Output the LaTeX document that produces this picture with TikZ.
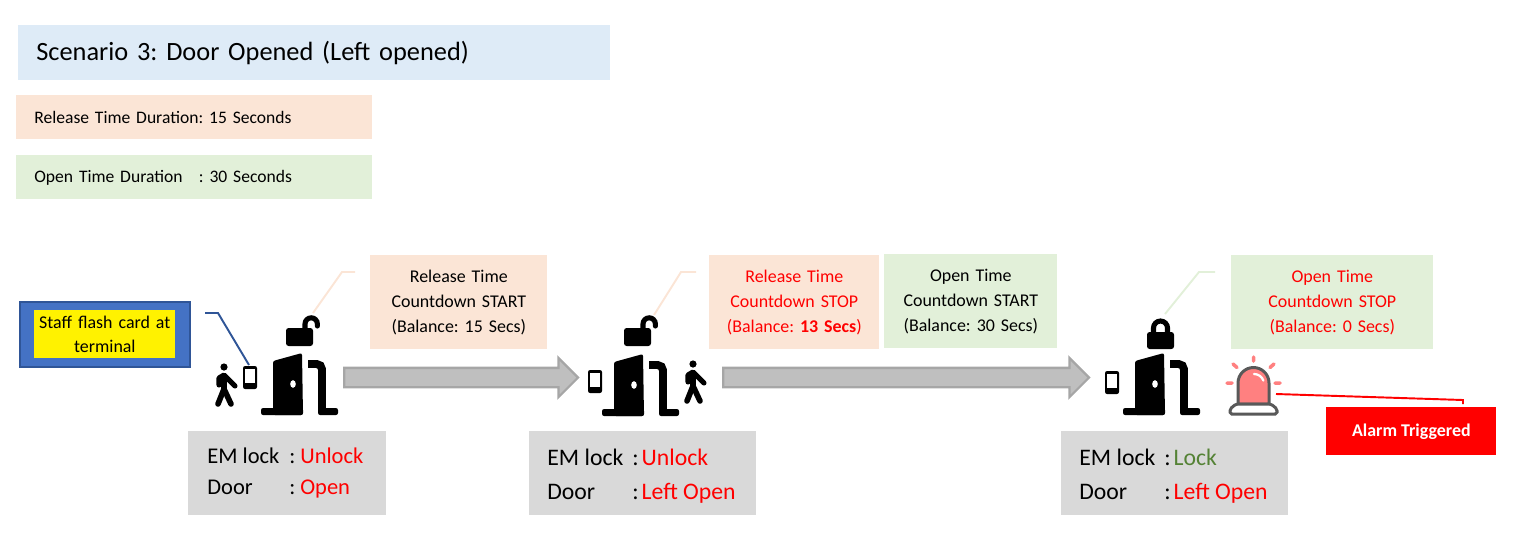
\documentclass[tikz,border=0pt]{standalone}
\usepackage{fontspec}
\setmainfont{Carlito}
\usepackage{array}
\usetikzlibrary{shapes.arrows, arrows.meta, positioning}

\definecolor{headblue}{HTML}{DEEBF7}
\definecolor{peach}{HTML}{FBE5D6}
\definecolor{palegreen}{HTML}{E2F0D9}
\definecolor{statgray}{HTML}{D9D9D9}
\definecolor{lockgreen}{HTML}{548235}
\definecolor{cardblue}{HTML}{4472C4}
\definecolor{darkblue}{HTML}{2F5597}
\definecolor{alarmpink}{HTML}{FF8080}
\definecolor{alarmgray}{HTML}{595959}
\definecolor{arrowgray}{HTML}{BFBFBF}
\definecolor{arrowedge}{HTML}{A6A6A6}

\frenchspacing
\tikzset{
  tag/.style={anchor=north west, inner xsep=0.36cm, inner ysep=0pt, align=left, font=\fontsize{10}{12}\selectfont},
  note/.style={anchor=north west, inner sep=0pt, align=center, font=\fontsize{10.2}{14.2}\selectfont},
  stat/.style={anchor=north west, fill=statgray, inner sep=0pt},
  flow/.style={single arrow, draw=arrowedge, fill=arrowgray, line width=1.3pt, minimum width=0.78cm,
    text height=0.17cm, text depth=0.17cm,
    single arrow head extend=0.2cm, single arrow head indent=0pt, inner sep=0pt, anchor=west},
  leader/.style={line width=1.1pt},
  pics/door/.style={code={
    \fill[rounded corners=1.2pt] (12,-6) -- (12,-54) -- (41,-62) -- (42,0) -- (12,0) -- cycle;
    \fill[rounded corners=1.2pt] (0,-7) rectangle (42,0);
    \fill[rounded corners=1.2pt] (57,-7) rectangle (77,0);
    \fill[white] (32,-31) ellipse (2.8 and 3.8);
    \draw[line width=4.5pt, rounded corners=3pt] (47,-51) -- (61,-51) -- (61,-3);
  }},
  pics/openlock/.style={code={
    \fill[rounded corners=1.5pt] (0,0) rectangle (27,-18);
    \draw[line width=2.9pt, line cap=round] (19,-14) -- (19,-22) arc[start angle=180, end angle=360, radius=6.2] -- ++(0,2);
  }},
  pics/shutlock/.style={code={
    \fill[rounded corners=1.5pt] (0,0) rectangle (27,-17);
    \draw[line width=2.9pt] (6.5,-13) -- (6.5,-21) arc[start angle=180, end angle=360, radius=7] -- (20.5,-13);
  }},
  pics/phone/.style={code={
    \fill[rounded corners=1.2pt] (0,0) rectangle (14,23);
    \fill[white] (2,3) rectangle (12,17);
  }},
  pics/walker/.style={code={
    \fill (0,0) circle (3.6);
    \draw[line width=2.9pt, line cap=round, line join=round] (-5,18) -- (-5,11) -- (0,8) -- (11,19);
    \draw[line width=3.2pt, line cap=round, line join=round] (0,9) -- (0,22) -- (-6,37);
    \draw[line width=3.2pt, line cap=round, line join=round] (0,22) -- (7,37);
  }},
  pics/siren/.style={code={
    \draw[alarmgray, fill=alarmpink, line width=1.7pt] (-15,37) -- (-15,16) arc[start angle=180, end angle=360, radius=15.5] -- (16,37) -- cycle;
    \draw[white, line width=1.3pt, line cap=round] (1,7) arc[start angle=270, end angle=340, radius=10];
    \draw[alarmgray, fill=white, line width=1.7pt, rounded corners=1pt] (-23,47) -- (-23,42) -- (-17,37) -- (18,37) -- (24,42) -- (24,47) -- cycle;
    \draw[alarmpink, line width=2pt, line cap=round] (0.5,-10) -- (0.5,-6) (-20,-3) -- (-16,0.5) (21,-3) -- (17,0.5)
      (-26,16) -- (-21,16) (22,16) -- (27,16);
  }}
}

\begin{document}
\begin{tikzpicture}[x=0.02cm, y=-0.02cm]
\useasboundingbox (0,0) rectangle (1522,552);

% legend
\node[tag, fill=headblue, text width=11.12cm, minimum height=1.1cm, font=\fontsize{15}{18}\selectfont] (title) at (18,25) {Scenario 3: Door Opened (Left opened)};
\node[tag, fill=peach, text width=6.4cm, minimum height=0.88cm] (release) at (16,95) {Release Time Duration: 15 Seconds};
\node[tag, fill=palegreen, text width=6.4cm, minimum height=0.88cm] (open) at (16,155) {Open Time Duration\hspace{0.6em} : 30 Seconds};

% countdown notes
\node[note, fill=peach, text width=3.54cm, minimum height=1.88cm] (note_a) at (370,255) {Release Time\\Countdown START\\(Balance: 15 Secs)};
\node[note, fill=peach, text width=3.4cm, minimum height=1.88cm, text=red] (note_b) at (709,255) {Release Time\\Countdown STOP\\(Balance: \textbf{13 Secs})};
\node[note, fill=palegreen, text width=3.46cm, minimum height=1.88cm] (note_c) at (884,254) {Open Time\\Countdown START\\(Balance: 30 Secs)};
\node[note, fill=palegreen, text width=4.04cm, minimum height=1.88cm, text=red] (note_d) at (1231,255) {Open Time\\Countdown STOP\\(Balance: 0 Secs)};

% staff card
\node[anchor=north west, draw=darkblue, fill=cardblue, line width=1.2pt, minimum width=3.4cm, minimum height=1.3cm] (card) at (19,301) {};
\node[anchor=north west, fill=yellow, inner sep=0pt, text width=2.82cm, minimum height=0.96cm, align=center, font=\fontsize{10.2}{13.5}\selectfont] (cardtext) at (34,310) {Staff flash card at\\terminal};

% stage one
\pic at (261,415) {door};
\pic at (286,346) {openlock};
\pic at (243,366) {phone};
\pic at (224,367) {walker};
\node[stat, minimum width=3.96cm, minimum height=1.68cm] (stat_a) at (188,431) {};
\node[font=\fontsize{12.8}{17.5}\selectfont, anchor=west, inner sep=0pt] (text_a) at (207,473) {\begin{tabular}{@{}p{1.64cm}@{}l@{\hspace{0.1cm}}l@{}}EM lock & : & \textcolor{red}{Unlock}\\Door & : & \textcolor{red}{Open}\end{tabular}};

% stage two
\pic at (602,416) {door};
\pic at (624,346) {openlock};
\pic at (588,370) {phone};
\pic at (693,364) {walker};
\node[stat, minimum width=4.54cm, minimum height=1.68cm] (stat_b) at (529,431) {};
\node[font=\fontsize{13.5}{19}\selectfont, anchor=west, inner sep=0pt] (text_b) at (547,476) {\begin{tabular}{@{}p{1.7cm}@{}l@{\hspace{0.06cm}}l@{}}EM lock & : & \textcolor{red}{Unlock}\\Door & : & \textcolor{red}{Left Open}\end{tabular}};

% stage three
\pic at (1123,415) {door};
\pic at (1147,349) {shutlock};
\pic at (1105,371) {phone};
\pic at (1253,367) {siren};
\node[stat, minimum width=4.54cm, minimum height=1.68cm] (stat_c) at (1061,431) {};
\node[font=\fontsize{13.5}{19}\selectfont, anchor=west, inner sep=0pt] (text_c) at (1079,476) {\begin{tabular}{@{}p{1.7cm}@{}l@{\hspace{0.06cm}}l@{}}EM lock & : & \textcolor{lockgreen}{Lock}\\Door & : & \textcolor{red}{Left Open}\end{tabular}};

\node[anchor=north west, fill=red, text=white, inner sep=0pt, minimum width=3.4cm, minimum height=0.96cm, font=\bfseries\fontsize{10.2}{12}\selectfont] (alarm) at (1326,407) {Alarm Triggered};

% flow arrows
\node[flow, minimum height=4.68cm] (flow_a) at (343,377.5) {};
\node[flow, minimum height=7.32cm] (flow_b) at (722,377.5) {};

% callout lines
\coordinate (card_end) at (205,313);
\coordinate (phone_a) at (249,365);
\coordinate (lock_a) at (313,313);
\coordinate (tail_a) at (355,272);
\coordinate (lock_b) at (654,315);
\coordinate (tail_b) at (696,272);
\coordinate (lock_c) at (1165,314);
\coordinate (tail_c) at (1215,272);
\coordinate (siren_end) at (1276,394);
\coordinate (alarm_top) at (1463,404);

\draw[darkblue, leader] (card_end) -- (218,313) -- (phone_a);
\draw[peach, leader] (tail_a) -- (342,272) -- (lock_a);
\draw[peach, leader] (tail_b) -- (681,272) -- (lock_b);
\draw[palegreen, leader] (tail_c) -- (1199,272) -- (lock_c);
\draw[red, leader] (siren_end) -- (1463,400) -- (alarm_top);
\end{tikzpicture}
\end{document}
